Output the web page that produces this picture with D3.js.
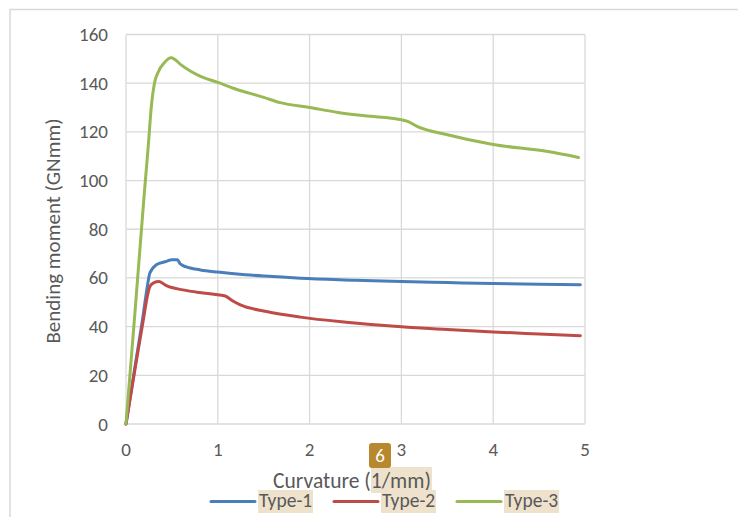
<!DOCTYPE html>
<html><head><meta charset="utf-8">
<script src="https://cdn.jsdelivr.net/npm/d3@7"></script>
<style>body{margin:0;background:#fff}svg{display:block}</style>
</head><body>
<svg id="c" width="738" height="517"></svg>
<script>
const xTicks = [0,1,2,3,4,5];
const yTicks = [0,20,40,60,80,100,120,140,160];
const seriesNames = ["Type-1","Type-2","Type-3"];
const seriesColors = ["#4a7ebb","#be4b48","#98b954"];
const type1 = [[0,0],[0.1,24],[0.19,45.5],[0.23,56],[0.26,62],[0.33,65.4],[0.44,66.8],[0.5,67.5],[0.56,67.5],[0.59,65.8],[0.65,64.6],[0.81,63.3],[1.0,62.4],[1.3,61.3],[1.6,60.6],[1.9,59.9],[2.5,59.1],[3.0,58.5],[3.5,58.1],[4.0,57.7],[4.5,57.4],[4.95,57.2]];
const type2 = [[0,0],[0.1,23],[0.19,43],[0.23,52],[0.26,56.5],[0.3,58],[0.36,58.5],[0.44,56.8],[0.62,55.1],[0.8,54],[1.0,53.1],[1.08,52.6],[1.16,50.6],[1.24,49],[1.53,46.2],[1.9,43.9],[2.4,41.8],[3.0,39.9],[3.5,38.8],[4.0,37.8],[4.5,37],[4.95,36.3]];
const type3 = [[0,0],[0.1,47],[0.2,95],[0.24,113],[0.28,132],[0.31,140],[0.35,144.5],[0.42,148.5],[0.49,150.4],[0.53,149.8],[0.6,147.5],[0.7,145],[0.8,143],[1.0,140.3],[1.2,137.5],[1.5,134.2],[1.68,132],[2.0,130],[2.31,128],[2.6,126.6],[3.0,125],[3.06,124.4],[3.17,122.3],[3.49,118.9],[4.0,114.8],[4.58,112],[4.93,109.5]];
const seriesData = [type1,type2,type3];

const svg = d3.select("#c");
const font = "Calibri, Carlito, Lato, sans-serif";
const txt = "#595959";
// frame
svg.append("path").attr("d","M10,517 L10,9.5 L738,9.5").attr("fill","none").attr("stroke","#d9d9d9").attr("stroke-width",1.5);

const x = d3.scaleLinear().domain([0,5]).range([126,585]);
const y = d3.scaleLinear().domain([0,160]).range([424,34.5]);

const g = svg.append("g");
g.selectAll(".vg").data(xTicks).join("line").attr("x1",d=>x(d)).attr("x2",d=>x(d)).attr("y1",y(0)).attr("y2",y(160)).attr("stroke","#d9d9d9").attr("stroke-width",1.3);
g.selectAll(".hg").data(yTicks).join("line").attr("x1",x(0)).attr("x2",x(5)).attr("y1",d=>y(d)).attr("y2",d=>y(d)).attr("stroke","#d9d9d9").attr("stroke-width",1.3);

g.selectAll(".yt").data(yTicks).join("text").attr("x",108).attr("y",d=>y(d)+6.5).attr("text-anchor","end").attr("font-family",font).attr("font-size",19).attr("fill",txt).text(d=>d);
g.selectAll(".xt").data(xTicks).join("text").attr("x",d=>x(d)).attr("y",456).attr("text-anchor","middle").attr("font-family",font).attr("font-size",19).attr("fill",txt).text(d=>d);

const line = d3.line().x(d=>x(d[0])).y(d=>y(d[1])).curve(d3.curveMonotoneX);
seriesData.forEach((s,i)=>{
  svg.append("path").datum(s).attr("d",line).attr("fill","none").attr("stroke",seriesColors[i]).attr("stroke-width",3).attr("stroke-linejoin","round").attr("stroke-linecap","round");
});

// axis titles
svg.append("text").attr("transform","translate(60,231) rotate(-90)").attr("text-anchor","middle").attr("font-family",font).attr("font-size",21).attr("fill",txt).text("Bending moment (GNmm)");
svg.append("rect").attr("x",371).attr("y",467).attr("width",61).attr("height",26).attr("fill","#eee2cc");
svg.append("text").attr("x",352).attr("y",488).attr("text-anchor","middle").attr("font-family",font).attr("font-size",21.5).attr("fill",txt).text("Curvature (1/mm)");

// badge
svg.append("rect").attr("x",369).attr("y",443).attr("width",22).attr("height",25).attr("rx",3).attr("fill","#b8882e");
svg.append("text").attr("x",380).attr("y",462).attr("text-anchor","middle").attr("font-family",font).attr("font-size",19).attr("fill","#fff").text("6");

// legend
const legX = [211,334,457];
seriesNames.forEach((n,i)=>{
  svg.append("rect").attr("x",legX[i]+47).attr("y",490).attr("width",55).attr("height",23).attr("fill","#eee2cc");
  svg.append("line").attr("x1",legX[i]).attr("x2",legX[i]+44).attr("y1",501.5).attr("y2",501.5).attr("stroke",seriesColors[i]).attr("stroke-width",3).attr("stroke-linecap","round");
  svg.append("text").attr("x",legX[i]+48).attr("y",507).attr("font-family",font).attr("font-size",19.5).attr("fill",txt).text(n);
});
</script>
</body></html>
